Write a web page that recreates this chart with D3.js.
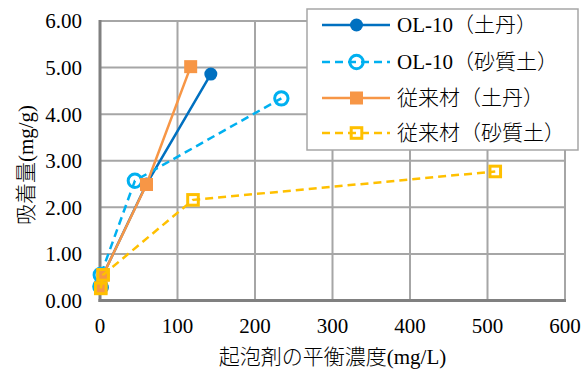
<!DOCTYPE html>
<html>
<head>
<meta charset="utf-8">
<script src="https://cdn.jsdelivr.net/npm/d3@7"></script>
<style>
  html, body { margin: 0; padding: 0; background: #fff; }
  svg { display: block; }
  text { font-family: "Liberation Serif", "Noto Sans CJK JP", serif; fill: #000; font-weight: 300; }
</style>
</head>
<body>
<svg id="chart" width="587" height="374"></svg>
<script>
// ---- data ----
const seriesNames = ["OL-10（土丹）", "OL-10（砂質土）", "従来材（土丹）", "従来材（砂質土）"];
const ol10Dotan = [[3, 0.28], [4, 0.55], [60, 2.50], [143, 4.86]];
const ol10Sand = [[0.5, 0.30], [1, 0.55], [45, 2.57], [234, 4.34]];
const conventionalDotan = [[1, 0.27], [4, 0.55], [60, 2.49], [117, 5.02]];
const conventionalSand = [[1, 0.26], [4, 0.55], [120, 2.16], [510, 2.77]];
const xTicks = [0, 100, 200, 300, 400, 500, 600];
const yTicks = [0, 1, 2, 3, 4, 5, 6];
const xTitle = "起泡剤の平衡濃度(mg/L)";
const yTitle = "吸着量(mg/g)";

const styles = [
  { color: "#0070C0", dash: null, marker: "circle", filled: true },
  { color: "#00B0F0", dash: "8,5", marker: "circle", filled: false },
  { color: "#F79646", dash: null, marker: "square", filled: true },
  { color: "#FFC000", dash: "8,5", marker: "square", filled: false }
];
const allSeries = [ol10Dotan, ol10Sand, conventionalDotan, conventionalSand];

const svg = d3.select("#chart");
const pLeft = 100, pRight = 565, pTop = 21, pBottom = 300.5;
const x = d3.scaleLinear().domain([0, 600]).range([pLeft, pRight]);
const y = d3.scaleLinear().domain([0, 6]).range([pBottom, pTop]);

// gridlines
const grid = svg.append("g");
grid.selectAll("line.v").data(xTicks.filter(d => d > 0)).enter().append("line")
  .attr("x1", d => x(d)).attr("x2", d => x(d)).attr("y1", pTop).attr("y2", pBottom)
  .attr("stroke", "#A6A6A6").attr("stroke-width", 2);
grid.selectAll("line.h").data(yTicks.filter(d => d > 0)).enter().append("line")
  .attr("x1", pLeft).attr("x2", pRight).attr("y1", d => y(d)).attr("y2", d => y(d))
  .attr("stroke", "#A6A6A6").attr("stroke-width", 2);

// axes lines
svg.append("line").attr("x1", pLeft).attr("x2", pLeft).attr("y1", pTop - 1).attr("y2", pBottom + 1.5)
  .attr("stroke", "#808080").attr("stroke-width", 3);
svg.append("line").attr("x1", pLeft - 1.5).attr("x2", pRight + 1).attr("y1", pBottom).attr("y2", pBottom)
  .attr("stroke", "#808080").attr("stroke-width", 3);

// tick labels
svg.append("g").selectAll("text").data(yTicks).enter().append("text")
  .attr("x", 82).attr("y", d => y(d)).attr("dy", "0.35em")
  .attr("text-anchor", "end").attr("font-size", 21)
  .text(d => d3.format(".2f")(d));
svg.append("g").selectAll("text").data(xTicks).enter().append("text")
  .attr("x", d => x(d)).attr("y", 333)
  .attr("text-anchor", "middle").attr("font-size", 21)
  .text(d => d);

// titles
svg.append("text").attr("x", (pLeft + pRight) / 2).attr("y", 364)
  .attr("text-anchor", "middle").attr("font-size", 21).text(xTitle);
svg.append("text").attr("transform", "translate(33,165) rotate(-90)")
  .attr("text-anchor", "middle").attr("font-size", 21).text(yTitle);

function drawMarker(g, st, cx, cy) {
  if (st.marker === "circle") {
    if (st.filled) {
      g.append("circle").attr("cx", cx).attr("cy", cy).attr("r", 6.5).attr("fill", st.color);
    } else {
      g.append("circle").attr("cx", cx).attr("cy", cy).attr("r", 6.7).attr("fill", "none")
        .attr("stroke", st.color).attr("stroke-width", 3);
    }
  } else {
    if (st.filled) {
      g.append("rect").attr("x", cx - 6.5).attr("y", cy - 6.5).attr("width", 13).attr("height", 13).attr("fill", st.color);
    } else {
      g.append("rect").attr("x", cx - 5.3).attr("y", cy - 5.3).attr("width", 10.6).attr("height", 10.6).attr("fill", "none")
        .attr("stroke", st.color).attr("stroke-width", 3);
    }
  }
}

const line = d3.line().x(d => x(d[0])).y(d => y(d[1]));
allSeries.forEach((data, i) => {
  const st = styles[i];
  const g = svg.append("g");
  g.append("path").attr("d", line(data)).attr("fill", "none")
    .attr("stroke", st.color).attr("stroke-width", 2.5)
    .attr("stroke-dasharray", st.dash);
  data.forEach(d => drawMarker(g, st, x(d[0]), y(d[1])));
});

// legend
const lg = svg.append("g");
lg.append("rect").attr("x", 307).attr("y", 9).attr("width", 271).attr("height", 141)
  .attr("fill", "#fff").attr("stroke", "#A6A6A6").attr("stroke-width", 1.5);
const rowY = [25, 62, 98, 133];
seriesNames.forEach((name, i) => {
  const st = styles[i];
  const yy = rowY[i];
  lg.append("line").attr("x1", 322).attr("x2", 390).attr("y1", yy).attr("y2", yy)
    .attr("stroke", st.color).attr("stroke-width", 2.5).attr("stroke-dasharray", st.dash);
  drawMarker(lg, st, 356.5, yy);
  lg.append("text").attr("x", 397).attr("y", yy).attr("dy", "0.35em")
    .attr("font-size", 21).text(name);
});
</script>
</body>
</html>
